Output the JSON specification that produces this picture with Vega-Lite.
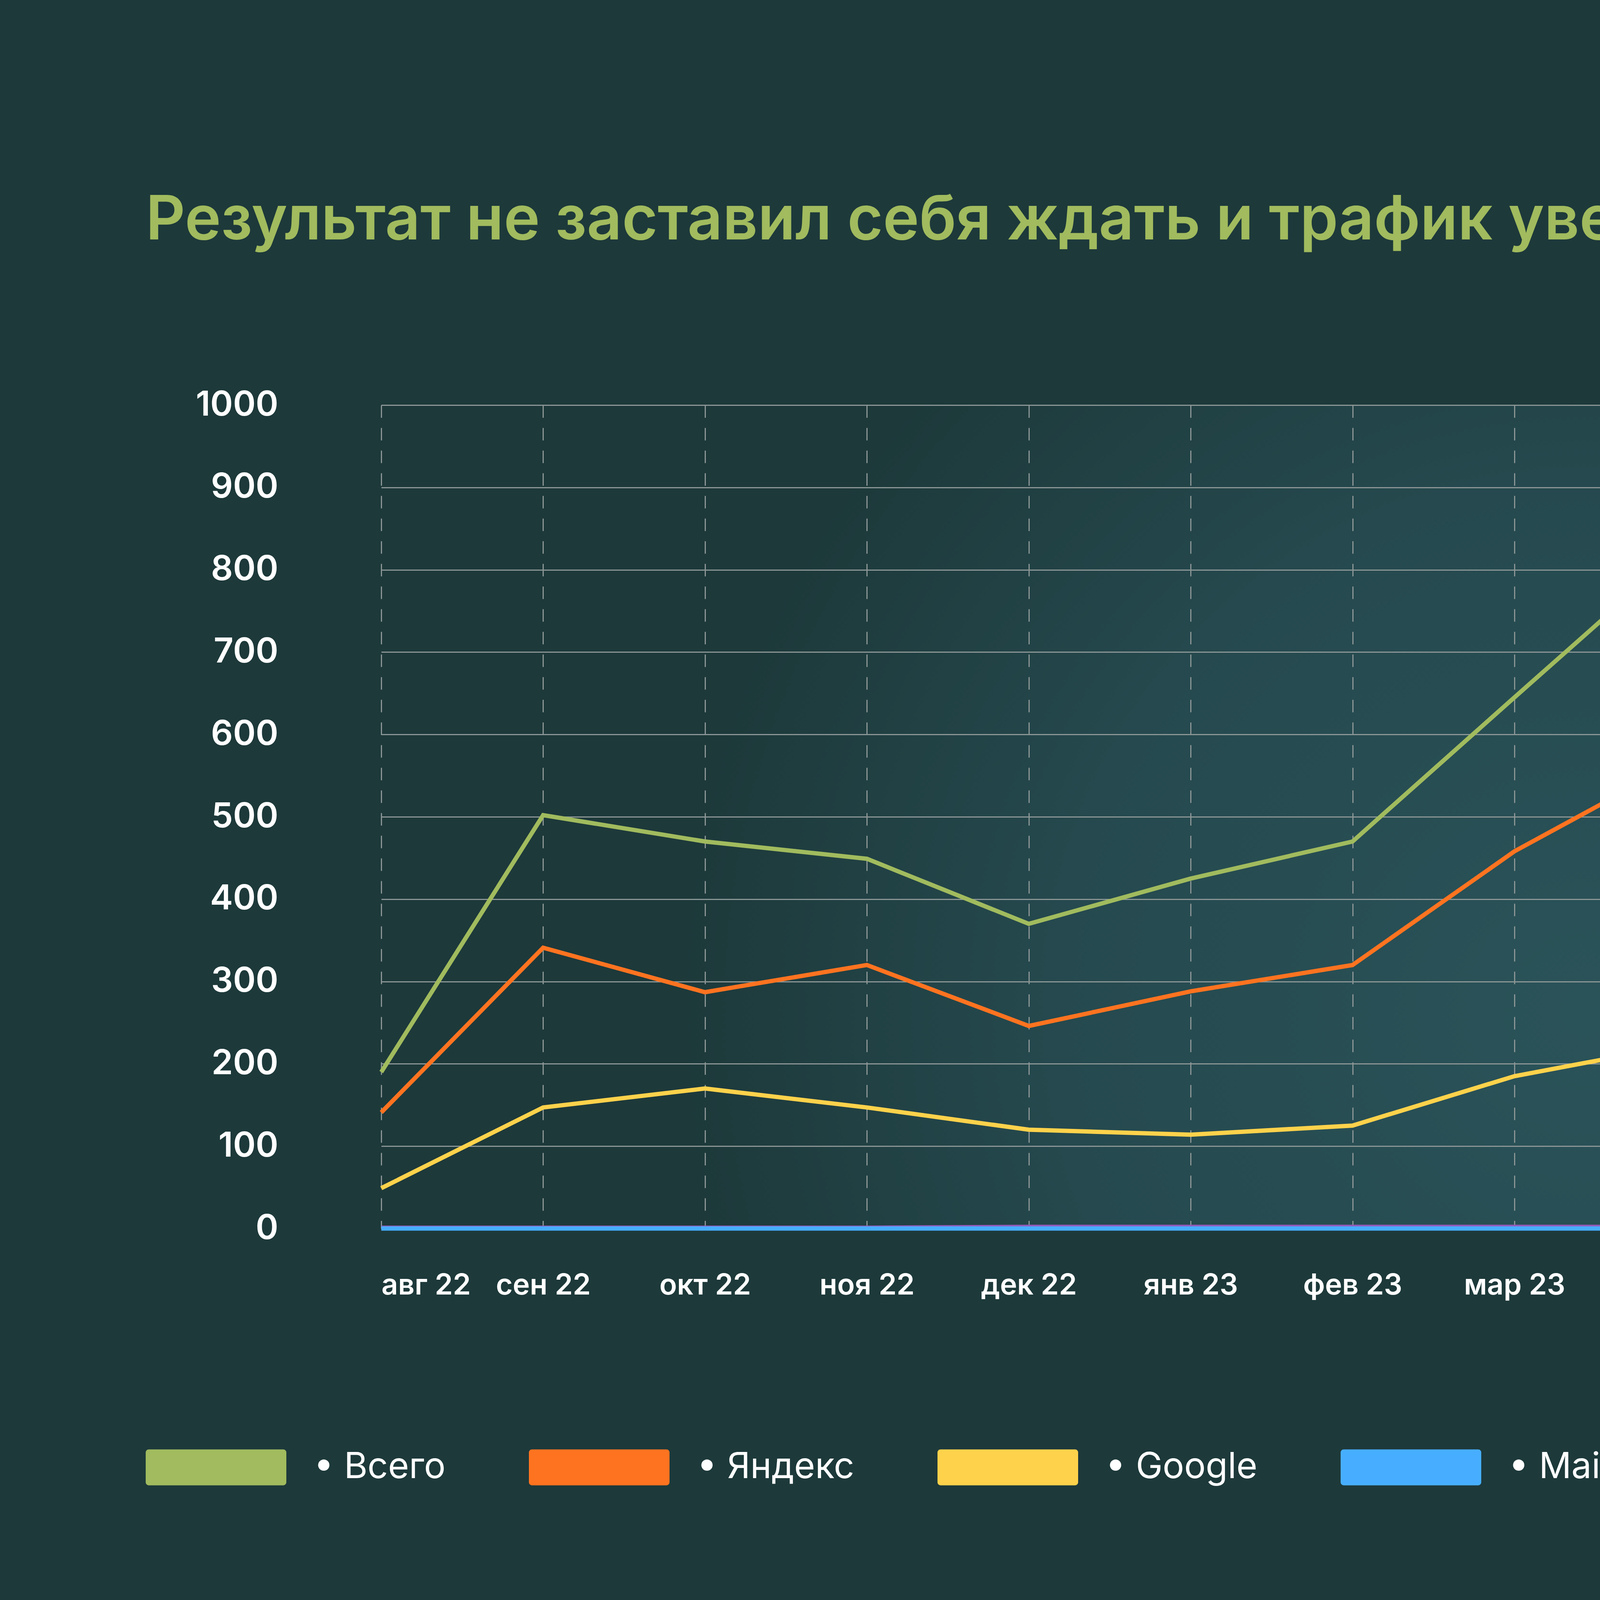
{
  "$schema": "https://vega.github.io/schema/vega-lite/v6.json",
  "width": 4973,
  "height": 2108,
  "autosize": "none",
  "padding": {"left": 976, "top": 1037, "right": 479, "bottom": 955},
  "background": "#1d393a",
  "config": {
    "font": "Inter",
    "view": {
      "stroke": null,
      "fill": {
        "gradient": "radial",
        "x1": 0.62, "y1": 0.6, "r1": 0,
        "x2": 0.62, "y2": 0.6, "r2": 0.55,
        "stops": [
          {"offset": 0, "color": "#2a5359"},
          {"offset": 0.5, "color": "#25494e"},
          {"offset": 0.85, "color": "#1d393a"},
          {"offset": 1, "color": "#1d393a"}
        ]
      }
    }
  },
  "title": {
    "text": "Результат не заставил себя ждать и трафик увеличился в 2 раза:",
    "anchor": "start",
    "frame": "group",
    "dx": -603,
    "offset": -681,
    "font": "Inter",
    "fontSize": 157,
    "fontWeight": 600,
    "color": "#a1bb5e",
    "limit": 0
  },
  "data": {
    "values": [
      {"month": "авг 22", "series": "Всего", "value": 190},
      {"month": "сен 22", "series": "Всего", "value": 502},
      {"month": "окт 22", "series": "Всего", "value": 470},
      {"month": "ноя 22", "series": "Всего", "value": 449},
      {"month": "дек 22", "series": "Всего", "value": 370},
      {"month": "янв 23", "series": "Всего", "value": 425},
      {"month": "фев 23", "series": "Всего", "value": 470},
      {"month": "мар 23", "series": "Всего", "value": 645},
      {"month": "апр 23", "series": "Всего", "value": 819},
      {"month": "май 23", "series": "Всего", "value": 963},
      {"month": "июн 23", "series": "Всего", "value": 945},
      {"month": "июл 23", "series": "Всего", "value": 927},
      {"month": "авг 23", "series": "Всего", "value": 692},
      {"month": "авг 22", "series": "Яндекс", "value": 141},
      {"month": "сен 22", "series": "Яндекс", "value": 341},
      {"month": "окт 22", "series": "Яндекс", "value": 287},
      {"month": "ноя 22", "series": "Яндекс", "value": 320},
      {"month": "дек 22", "series": "Яндекс", "value": 246},
      {"month": "янв 23", "series": "Яндекс", "value": 288},
      {"month": "фев 23", "series": "Яндекс", "value": 320},
      {"month": "мар 23", "series": "Яндекс", "value": 458},
      {"month": "апр 23", "series": "Яндекс", "value": 565},
      {"month": "май 23", "series": "Яндекс", "value": 727},
      {"month": "июн 23", "series": "Яндекс", "value": 738},
      {"month": "июл 23", "series": "Яндекс", "value": 748},
      {"month": "авг 23", "series": "Яндекс", "value": 566},
      {"month": "авг 22", "series": "Google", "value": 49},
      {"month": "сен 22", "series": "Google", "value": 147},
      {"month": "окт 22", "series": "Google", "value": 170},
      {"month": "ноя 22", "series": "Google", "value": 147},
      {"month": "дек 22", "series": "Google", "value": 120},
      {"month": "янв 23", "series": "Google", "value": 114},
      {"month": "фев 23", "series": "Google", "value": 125},
      {"month": "мар 23", "series": "Google", "value": 185},
      {"month": "апр 23", "series": "Google", "value": 222},
      {"month": "май 23", "series": "Google", "value": 228},
      {"month": "июн 23", "series": "Google", "value": 223},
      {"month": "июл 23", "series": "Google", "value": 185},
      {"month": "авг 23", "series": "Google", "value": 148},
      {"month": "авг 22", "series": "Другая поисковая метка", "value": 1},
      {"month": "сен 22", "series": "Другая поисковая метка", "value": 1},
      {"month": "окт 22", "series": "Другая поисковая метка", "value": 1},
      {"month": "ноя 22", "series": "Другая поисковая метка", "value": 1},
      {"month": "дек 22", "series": "Другая поисковая метка", "value": 2},
      {"month": "янв 23", "series": "Другая поисковая метка", "value": 2},
      {"month": "фев 23", "series": "Другая поисковая метка", "value": 2},
      {"month": "мар 23", "series": "Другая поисковая метка", "value": 2},
      {"month": "апр 23", "series": "Другая поисковая метка", "value": 2},
      {"month": "май 23", "series": "Другая поисковая метка", "value": 3},
      {"month": "июн 23", "series": "Другая поисковая метка", "value": 3},
      {"month": "июл 23", "series": "Другая поисковая метка", "value": 3},
      {"month": "авг 23", "series": "Другая поисковая метка", "value": 3},
      {"month": "авг 22", "series": "Mail.ru", "value": 0},
      {"month": "сен 22", "series": "Mail.ru", "value": 0},
      {"month": "окт 22", "series": "Mail.ru", "value": 0},
      {"month": "ноя 22", "series": "Mail.ru", "value": 0},
      {"month": "дек 22", "series": "Mail.ru", "value": 0},
      {"month": "янв 23", "series": "Mail.ru", "value": 0},
      {"month": "фев 23", "series": "Mail.ru", "value": 0},
      {"month": "мар 23", "series": "Mail.ru", "value": 0},
      {"month": "апр 23", "series": "Mail.ru", "value": 0},
      {"month": "май 23", "series": "Mail.ru", "value": 0},
      {"month": "июн 23", "series": "Mail.ru", "value": 0},
      {"month": "июл 23", "series": "Mail.ru", "value": 0},
      {"month": "авг 23", "series": "Mail.ru", "value": 0}
    ]
  },
  "encoding": {
    "x": {
      "field": "month",
      "type": "ordinal",
      "sort": null,
      "scale": {
        "type": "point",
        "padding": 0,
        "domain": ["авг 22", "сен 22", "окт 22", "ноя 22", "дек 22", "янв 23", "фев 23", "мар 23", "апр 23", "май 23", "июн 23", "июл 23", "авг 23"]
      },
      "axis": {
        "title": null,
        "domain": false,
        "ticks": false,
        "labelAngle": 0,
        "labelPadding": 110,
        "labelLimit": 0,
        "labelFont": "Inter",
        "labelFontSize": 74,
        "labelFontWeight": 600,
        "labelColor": "#ffffff",
        "labelAlign": {"condition": {"test": "datum.index == 0", "value": "left"}, "value": "center"},
        "grid": true,
        "gridColor": "#8b9595",
        "gridWidth": 3,
        "gridDash": [32, 26]
      }
    }
  },
  "layer": [
    {
      "mark": {
        "type": "text",
        "text": "x2",
        "font": "Inter",
        "fontSize": 1640,
        "fontWeight": 700,
        "align": "center",
        "baseline": "alphabetic",
        "dx": 40,
        "fill": "#172c2b",
        "color": "#172c2b"
      },
      "encoding": {
        "x": {"datum": "июн 23"},
        "y": {"datum": 886}
      }
    },
    {
      "mark": {"type": "line", "strokeWidth": 11, "interpolate": "linear"},
      "encoding": {
        "y": {
          "field": "value",
          "type": "quantitative",
          "scale": {"domain": [0, 1000], "nice": false},
          "axis": {
            "title": null,
            "domain": false,
            "ticks": false,
            "format": "d",
            "values": [0, 100, 200, 300, 400, 500, 600, 700, 800, 900, 1000],
            "labelPadding": 264,
            "labelLimit": 0,
            "labelFont": "Inter",
            "labelFontSize": 88,
            "labelFontWeight": 600,
            "labelColor": "#ffffff",
            "grid": true,
            "gridColor": "#8b9595",
            "gridWidth": 3
          }
        },
        "color": {
          "field": "series",
          "type": "nominal",
          "scale": {
            "domain": ["Всего", "Яндекс", "Google", "Mail.ru", "Другая поисковая метка"],
            "range": ["#a1bb5e", "#fe7320", "#ffd24b", "#47aeff", "#955bbb"]
          },
          "legend": {
            "title": null,
            "orient": "none",
            "direction": "horizontal",
            "legendX": -603,
            "legendY": 2539,
            "symbolType": "M-0.956,-0.256H0.956A0.044,0.044,0,0,1,1,-0.212V0.212A0.044,0.044,0,0,1,0.956,0.256H-0.956A0.044,0.044,0,0,1,-1,0.212V-0.212A0.044,0.044,0,0,1,-0.956,-0.256Z",
            "symbolSize": 129600,
            "symbolStrokeWidth": 0,
            "labelExpr": "'•  ' + datum.label",
            "labelLimit": 0,
            "labelFont": "Inter",
            "labelFontSize": 92,
            "labelFontWeight": 400,
            "labelColor": "#ffffff",
            "labelOffset": 70,
            "columnPadding": 187,
            "encode": {
              "symbols": {
                "update": {
                  "fill": {"scale": "color", "field": "value"},
                  "fillOpacity": {"value": 1},
                  "strokeWidth": {"value": 0}
                }
              }
            }
          }
        }
      }
    }
  ]
}
